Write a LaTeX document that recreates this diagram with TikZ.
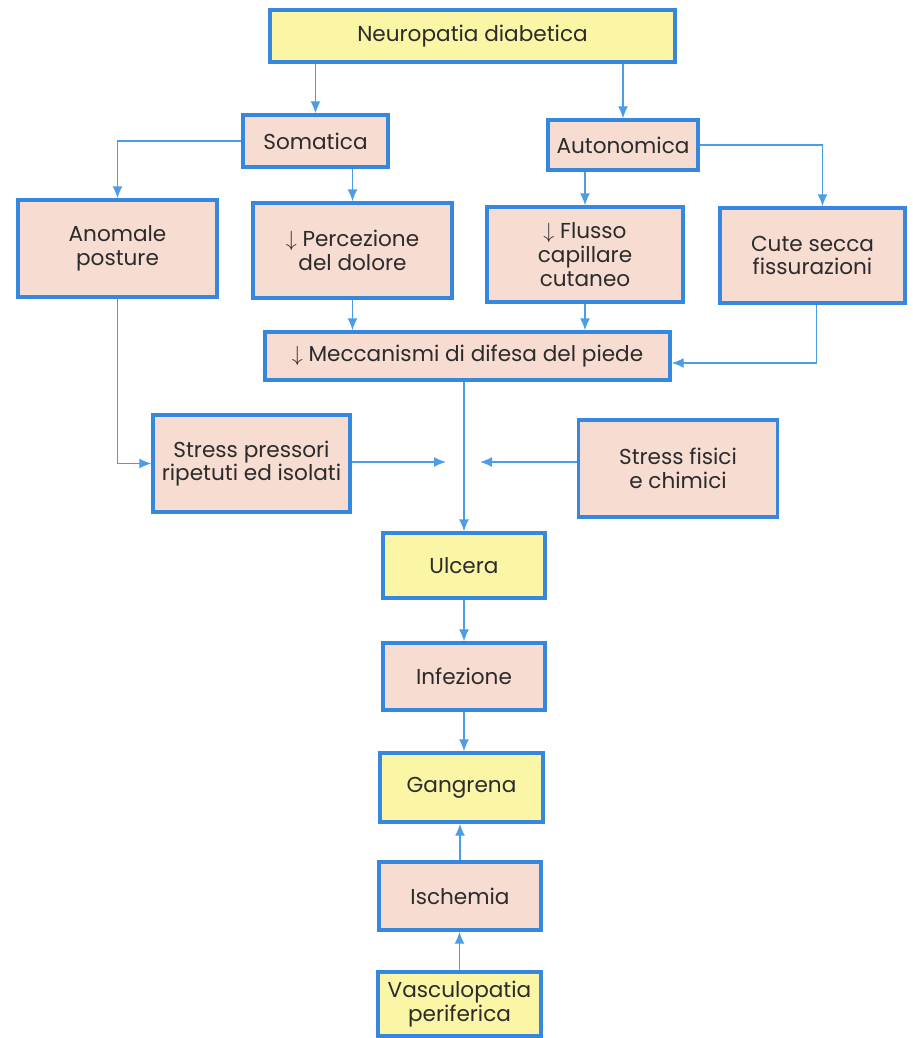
\documentclass[tikz,border=0pt]{standalone}
\usepackage{fontspec}
\setmainfont{Poppins}
\usetikzlibrary{arrows.meta}
\definecolor{boxblue}{HTML}{3588DE}
\definecolor{arrowblue}{HTML}{4C9CE8}
\definecolor{pinkfill}{HTML}{F7DCD2}
\definecolor{yellowfill}{HTML}{FAF6A6}
\definecolor{textgray}{HTML}{2B2B2B}

\begin{document}
\begin{tikzpicture}[x=0.5pt,y=-0.5pt,
        box/.style={draw=boxblue,line width=1.7pt,fill=pinkfill,align=center,
            inner sep=0pt,text=textgray,font=\fontsize{10.8}{11.9}\selectfont},
        ybox/.style={box,fill=yellowfill},
        boxsize/.style 2 args={minimum width=#1pt,minimum height=#2pt},
        arr/.style={-{Latex[length=6pt,width=5pt]},arrowblue,line width=0.7pt}]
        \useasboundingbox (0,0) rectangle (912,1038);
        % top levels
        \node[ybox,boxsize={202.5}{26}] (neuro) at (472.5,36) {Neuropatia diabetica};
        \node[box,boxsize={72.5}{26}] (soma) at (315.5,141) {Somatica};
        \node[box,boxsize={75}{25}] (auto) at (623,145) {Autonomica};
        \node[box,boxsize={99.5}{48.5}] (anom) at (117.5,248.5) {Anomale\\posture};
        \node[box,boxsize={99.5}{47.5}] (perc) at (352.5,250.5) {$\downarrow$ Percezione\\del dolore};
        \node[box,boxsize={98}{47.5}] (flus) at (585,254.5) {$\downarrow$ Flusso\\capillare\\cutaneo};
        \node[box,boxsize={92.5}{47.5}] (cute) at (812.5,255.5) {Cute secca\\fissurazioni};
        \node[box,boxsize={202.5}{24}] (mecc) at (467.5,356) {$\downarrow$ Meccanismi di difesa del piede};
        \node[box,boxsize={98.5}{48.5}] (spres) at (251.5,463.5) {Stress pressori\\ripetuti ed isolati};
        \node[box,boxsize={99.5}{48.5}] (sfis) at (678,468.5) {Stress fisici\\e chimici};
        % central column
        \node[ybox,boxsize={81}{32.5}] (ulc) at (464,565.5) {Ulcera};
        \node[box,boxsize={81}{33.5}] (inf) at (464,676.5) {Infezione};
        \node[ybox,boxsize={81.5}{34.5}] (gang) at (461.5,787.5) {Gangrena};
        \node[box,boxsize={81}{34}] (isch) at (460,896) {Ischemia};
        \node[ybox,boxsize={81.5}{32}] (vasc) at (459.5,1004) {Vasculopatia\\periferica};
        \coordinate (jl) at (446,462);
        \coordinate (jr) at (480,462);

        \draw[arr] (neuro.south -| soma.north) -- (soma.north);
        \draw[arr] (neuro.south -| auto.north) -- (auto.north);
        \draw[arr] (soma.west) -| (anom.north);
        \draw[arr] (soma.south -| perc.north) -- (perc.north);
        \draw[arr] (auto.south -| flus.north) -- (flus.north);
        \draw[arr] (auto.east) -| ([xshift=5pt]cute.north);
        \draw[arr] (perc.south) -- (perc.south |- mecc.north);
        \draw[arr] (flus.south) -- (flus.south |- mecc.north);
        \draw[arr] ([xshift=2pt]cute.south) |- ([yshift=-3.5pt]mecc.east);
        \draw[arr] (anom.south) |- (spres.west);
        \draw[arr] (spres.east |- jl) -- (jl);
        \draw[arr] (sfis.west |- jr) -- (jr);
        \draw[arr] (mecc.south -| ulc.north) -- (ulc.north);
        \draw[arr] (ulc) -- (inf);
        \draw[arr] (inf.south) -- (inf.south |- gang.north);
        \draw[arr] (isch.north) -- (isch.north |- gang.south);
        \draw[arr] (vasc.north) -- (vasc.north |- isch.south);
\end{tikzpicture}
\end{document}
